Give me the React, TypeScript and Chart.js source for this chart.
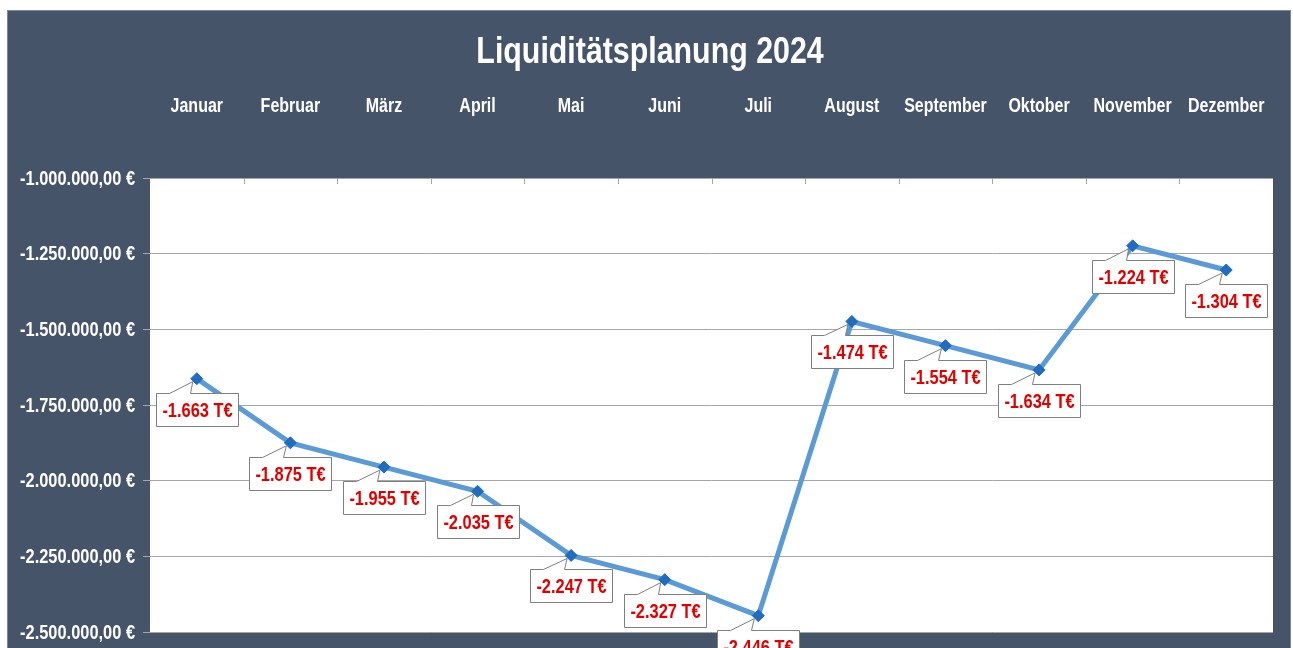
import React, { useEffect, useRef } from "react";
import { Chart, registerables } from "chart.js";

Chart.register(...registerables);

const TITLE = "Liquiditätsplanung 2024";
const MONTHS = [
  "Januar",
  "Februar",
  "März",
  "April",
  "Mai",
  "Juni",
  "Juli",
  "August",
  "September",
  "Oktober",
  "November",
  "Dezember",
];
// Liquidität in T€
const BALANCE_T = [-1663, -1875, -1955, -2035, -2247, -2327, -2446, -1474, -1554, -1634, -1224, -1304];
const Y_MIN = -2500000;
const Y_MAX = -1000000;
const Y_STEP = 250000;

const FONT = "'Liberation Sans', Arial, sans-serif";
const NARROW = 0.82; // emulate a narrow (Arial Narrow-like) face
const BG = "#465469";
const GRID = "#a6a6a6";
const LINE = "#5b9bd5";
const MARKER = "#1f6cc0";
const LABEL_RED = "#e00000";

function groupThousands(n: number): string {
  const s = String(Math.round(Math.abs(n)));
  let out = "";
  for (let i = 0; i < s.length; i++) {
    const fromEnd = s.length - i;
    out += s[i];
    if (fromEnd > 1 && (fromEnd - 1) % 3 === 0) out += ".";
  }
  return out;
}

function formatEuro(v: number): string {
  return (v < 0 ? "-" : "") + groupThousands(v) + ",00 €";
}

function formatT(v: number): string {
  return (v < 0 ? "-" : "") + groupThousands(v) + " T€";
}

function narrowText(
  ctx: CanvasRenderingContext2D,
  text: string,
  x: number,
  y: number,
  size: number,
  align: CanvasTextAlign,
  baseline: CanvasTextBaseline,
  color: string
) {
  ctx.save();
  ctx.font = `bold ${size}px ${FONT}`;
  ctx.translate(x, y);
  ctx.scale(NARROW, 1);
  ctx.textAlign = align;
  ctx.textBaseline = baseline;
  ctx.fillStyle = color;
  ctx.fillText(text, 0, 0);
  ctx.restore();
}

function narrowWidth(ctx: CanvasRenderingContext2D, text: string, size: number): number {
  ctx.save();
  ctx.font = `bold ${size}px ${FONT}`;
  const w = ctx.measureText(text).width * NARROW;
  ctx.restore();
  return w;
}

const decoPlugin = {
  id: "deco",
  beforeDraw(chart: any) {
    const { ctx, chartArea: a, width, height } = chart;
    ctx.save();
    ctx.fillStyle = BG;
    ctx.fillRect(0, 0, width, height);
    ctx.strokeStyle = "#7d8797";
    ctx.lineWidth = 1;
    ctx.strokeRect(0.5, 0.5, width - 1, height + 5);
    ctx.fillStyle = "#ffffff";
    ctx.fillRect(a.left, a.top, a.right - a.left, a.bottom - a.top);
    ctx.restore();
    // title
    narrowText(ctx, TITLE, width / 2 + 1, 52.5, 37, "center", "alphabetic", "#ffffff");
  },
  afterDraw(chart: any) {
    const { ctx, chartArea: a, scales } = chart;
    ctx.save();
    // small inner tick marks at category boundaries (top axis)
    ctx.strokeStyle = GRID;
    ctx.lineWidth = 1;
    const n = MONTHS.length;
    const cw = (a.right - a.left) / n;
    for (let i = 1; i < n; i++) {
      const x = Math.round(a.left + i * cw) + 0.5;
      ctx.beginPath();
      ctx.moveTo(x, a.top);
      ctx.lineTo(x, a.top + 6);
      ctx.stroke();
    }
    ctx.restore();
    // month labels (top)
    MONTHS.forEach((m, i) => {
      const x = scales.x.getPixelForValue(i);
      narrowText(ctx, m, x, 101.7, 19.5, "center", "alphabetic", "#ffffff");
    });
    // value axis labels (left)
    scales.y.ticks.forEach((t: any) => {
      const y = scales.y.getPixelForValue(t.value);
      narrowText(ctx, formatEuro(t.value), a.left - 15, y + 1, 20, "right", "middle", "#ffffff");
    });
  },
  afterDatasetsDraw(chart: any) {
    const { ctx } = chart;
    const meta = chart.getDatasetMeta(0);
    meta.data.forEach((el: any, i: number) => {
      const px = el.x;
      const py = el.y;
      const text = formatT(BALANCE_T[i]);
      const tw = narrowWidth(ctx, text, 20);
      const w = Math.round(tw + 12);
      const h = 33;
      const left = Math.round(px - w / 2) + 0.5;
      const top = Math.round(py + 14) + 0.5;
      const b1 = left + 13;
      const b2 = left + 34;
      const ax = px - 4;
      const ay = py + 3;
      ctx.save();
      ctx.beginPath();
      ctx.moveTo(left, top);
      ctx.lineTo(b1, top);
      ctx.lineTo(ax, ay);
      ctx.lineTo(b2, top);
      ctx.lineTo(left + w, top);
      ctx.lineTo(left + w, top + h);
      ctx.lineTo(left, top + h);
      ctx.closePath();
      ctx.fillStyle = "#ffffff";
      ctx.fill();
      ctx.strokeStyle = "#7f7f7f";
      ctx.lineWidth = 1;
      ctx.stroke();
      ctx.restore();
      narrowText(ctx, text, left + w / 2, top + h / 2 + 1, 20, "center", "middle", LABEL_RED);
    });
  },
};

export default function App() {
  const canvasRef = useRef<HTMLCanvasElement | null>(null);

  useEffect(() => {
    const canvas = canvasRef.current;
    if (!canvas) return;
    const chart = new Chart(canvas, {
      type: "line",
      data: {
        labels: MONTHS,
        datasets: [
          {
            label: "Liquidität",
            data: BALANCE_T.map((v) => v * 1000),
            borderColor: LINE,
            borderWidth: 5,
            backgroundColor: MARKER,
            pointStyle: "rectRot",
            pointRadius: 6,
            pointBackgroundColor: MARKER,
            pointBorderColor: MARKER,
            pointBorderWidth: 1,
            tension: 0,
            fill: false,
            clip: false as any,
          },
        ],
      },
      options: {
        responsive: false,
        animation: false,
        events: [],
        layout: { padding: { left: 0, right: 18, top: 0, bottom: 16 } },
        plugins: {
          legend: { display: false },
          title: { display: false },
          tooltip: { enabled: false },
        },
        scales: {
          x: {
            type: "category",
            position: "top",
            offset: true,
            grid: { display: false },
            border: { display: false },
            ticks: { display: false },
            afterFit(scale: any) {
              scale.height = 168;
            },
          },
          y: {
            type: "linear",
            min: Y_MIN,
            max: Y_MAX,
            grid: { color: GRID, lineWidth: 1, tickLength: 7, drawTicks: true },
            border: { display: false },
            ticks: {
              display: false,
              stepSize: Y_STEP,
              callback: (v: any) => formatEuro(Number(v)),
            },
            afterFit(scale: any) {
              scale.width = 143;
            },
          },
        },
      },
      plugins: [decoPlugin],
    });
    return () => chart.destroy();
  }, []);

  return (
    <div style={{ position: "absolute", left: 7, top: 10, width: 1284, height: 638 }}>
      <canvas ref={canvasRef} width={1284} height={638} style={{ display: "block" }} />
    </div>
  );
}
